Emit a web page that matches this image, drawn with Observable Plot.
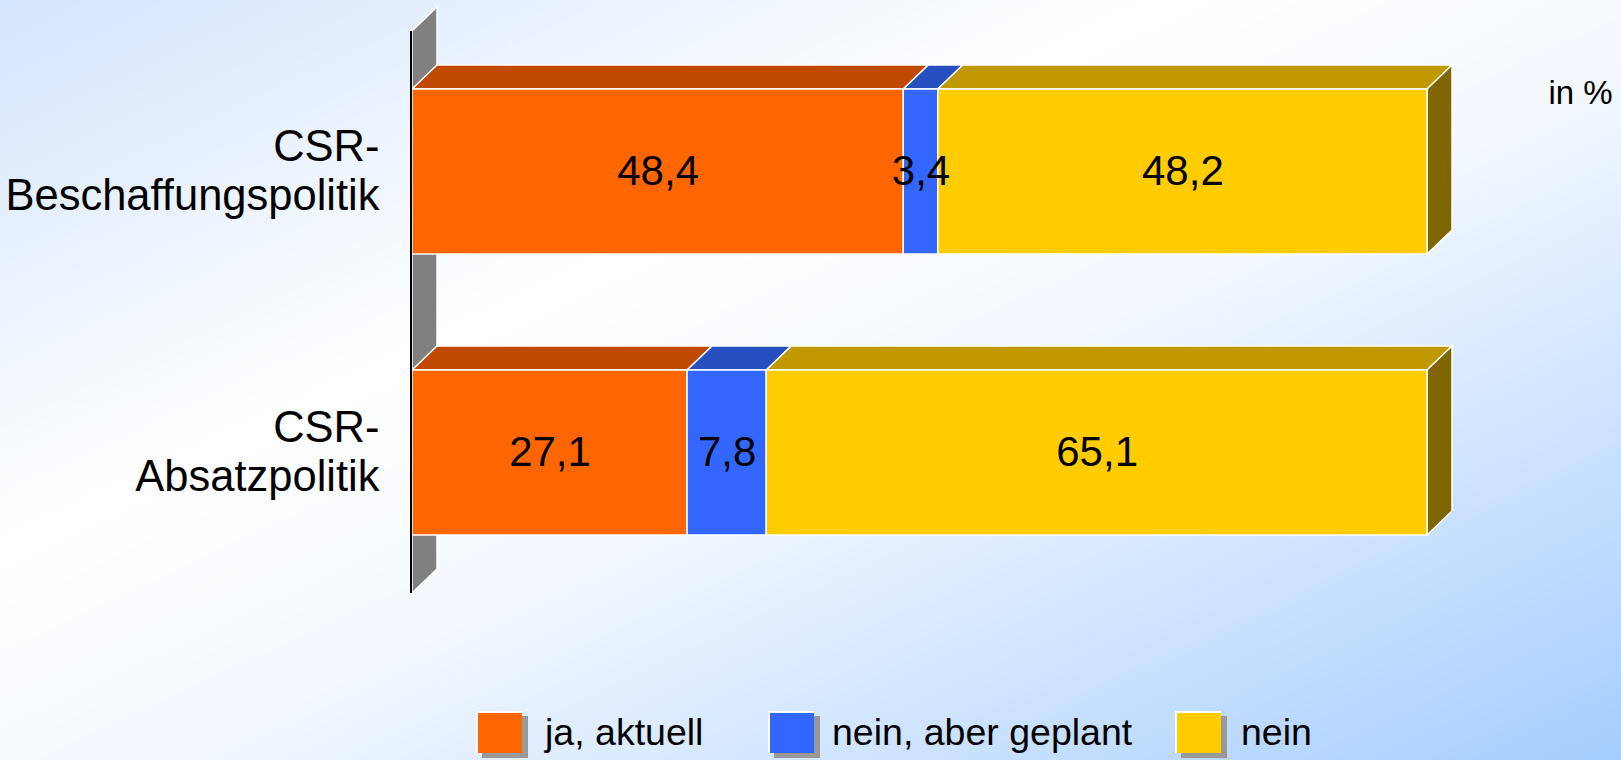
<!DOCTYPE html>
<html>
<head>
<meta charset="utf-8">
<script src="https://cdn.jsdelivr.net/npm/d3@7"></script>
<script src="https://cdn.jsdelivr.net/npm/@observablehq/plot@0.6"></script>
<style>
  html, body { margin: 0; padding: 0; }
  #page {
    position: relative; width: 1621px; height: 760px; overflow: hidden;
    background: linear-gradient(to bottom right, #D3E5FC 0%, #FFFFFF 36%, #F3F8FF 55%, #A5CDFF 100%);
    font-family: "Liberation Sans", Arial, sans-serif;
  }
  #chart svg { display: block; }
  .legend { position: absolute; left: 0; top: 700px; width: 1621px; height: 60px; }
  .item { position: absolute; top: 11px; height: 42px; display: flex; align-items: center; }
  .sw { width: 44px; height: 40px; border-top: 2px solid #fff; border-left: 2px solid #fff; box-shadow: 6px 5px 0 0 #999; margin-right: 23px; }
  .lab { font-size: 37.5px; color: #000; line-height: 42px; }
</style>
</head>
<body>
<div id="page">
  <div id="chart"></div>
  <div class="legend" id="legend"></div>
</div>
<script>
// ---- data ----
const categories = ["CSR-Beschaffungspolitik", "CSR-Absatzpolitik"];
const answers = ["ja, aktuell", "nein, aber geplant", "nein"];
const jaAktuell = [48.4, 27.1];
const neinGeplant = [3.4, 7.8];
const nein = [48.2, 65.1];
const unitLabel = "in %";

// ---- styles ----
const series = [jaAktuell, neinGeplant, nein];
const frontColors = ["#FF6600", "#3366FF", "#FFCC00"];
const topColors = ["#C04B00", "#264FC0", "#C09900"];
const sideColors = ["#803300", "#1A3380", "#806600"];
const DX = 25, DY = -24;

const rows = categories.flatMap((c, i) =>
  answers.map((a, j) => ({category: c, answer: a, value: series[j][i]})));

const fmt = v => v.toFixed(1).replace(".", ",");
const catLabel = c => c.replace("CSR-", "CSR-\n");

// 3D faces (wall, top faces, side faces) drawn from the plot's scales
const faces = (index, scales) => {
  const {x, y} = scales;
  const g = d3.create("svg:g");
  const bw = y.bandwidth(), step = y.step(), pad = (step - bw) / 2;
  const r0 = y(categories[0]) - pad;
  const r1 = y(categories[categories.length - 1]) + bw + pad;
  const x0 = x(0);
  g.append("path")
    .attr("d", `M${x0},${r0}L${x0 + DX},${r0 + DY}L${x0 + DX},${r1 + DY}L${x0},${r1}Z`)
    .attr("fill", "#808080").attr("stroke", "#fff").attr("stroke-width", 1.5);
  categories.forEach((c, i) => {
    const yt = y(c), yb = yt + bw;
    let acc = 0;
    series.forEach((s, j) => {
      const a = x(acc), b = x(acc + s[i]);
      acc += s[i];
      g.append("path")
        .attr("d", `M${a},${yt}L${a + DX},${yt + DY}L${b + DX},${yt + DY}L${b},${yt}Z`)
        .attr("fill", topColors[j]).attr("stroke", "#fff").attr("stroke-width", 1.5);
    });
    const xe = x(acc);
    g.append("path")
      .attr("d", `M${xe},${yt}L${xe + DX},${yt + DY}L${xe + DX},${yb + DY}L${xe},${yb}Z`)
      .attr("fill", sideColors[series.length - 1]).attr("stroke", "#fff").attr("stroke-width", 1.5);
  });
  return g.node();
};

const axisLine = (index, scales) => {
  const {x, y} = scales;
  const bw = y.bandwidth(), step = y.step(), pad = (step - bw) / 2;
  const r0 = y(categories[0]) - pad;
  const r1 = y(categories[categories.length - 1]) + bw + pad;
  return d3.create("svg:line")
    .attr("x1", x(0) - 1).attr("x2", x(0) - 1)
    .attr("y1", r0).attr("y2", r1)
    .attr("stroke", "#000").attr("stroke-width", 2).node();
};

const chart = Plot.plot({
  width: 1621,
  height: 700,
  marginLeft: 412,
  marginRight: 194,
  marginTop: 89,
  marginBottom: 165,
  style: {background: "transparent", overflow: "visible", fontFamily: "'Liberation Sans', Arial, sans-serif"},
  x: {domain: [0, 100], axis: null},
  y: {domain: categories, axis: null, paddingInner: 0.413, paddingOuter: 0},
  color: {domain: answers, range: frontColors},
  marks: [
    faces,
    Plot.barX(rows, Plot.stackX({x: "value", y: "category", fill: "answer", stroke: "#fff", strokeWidth: 1.5})),
    axisLine,
    Plot.text(rows, Plot.stackX({x: "value", y: "category", z: "answer", text: d => fmt(d.value), fontSize: 42, fill: "#000"})),
    Plot.text(categories, {y: d => d, frameAnchor: "left", dx: -33, dy: -2, textAnchor: "end", text: catLabel, fontSize: 43.5, lineHeight: 1.13, fill: "#000"}),
    Plot.text([unitLabel], {frameAnchor: "top-right", dx: 121, dy: 4, textAnchor: "start", lineAnchor: "middle", fontSize: 33, fill: "#000"})
  ]
});
document.getElementById("chart").appendChild(chart);

// legend
const legendPos = [[476, 545], [768, 832], [1175, 1241]];
const lg = document.getElementById("legend");
answers.forEach((a, j) => {
  const [sx, tx] = legendPos[j];
  const sw = document.createElement("div");
  sw.className = "item"; sw.style.left = sx + "px";
  sw.innerHTML = `<div class="sw" style="background:${frontColors[j]}"></div>`;
  lg.appendChild(sw);
  const t = document.createElement("div");
  t.className = "item"; t.style.left = tx + "px";
  t.innerHTML = `<span class="lab">${a}</span>`;
  lg.appendChild(t);
});
</script>
</body>
</html>
